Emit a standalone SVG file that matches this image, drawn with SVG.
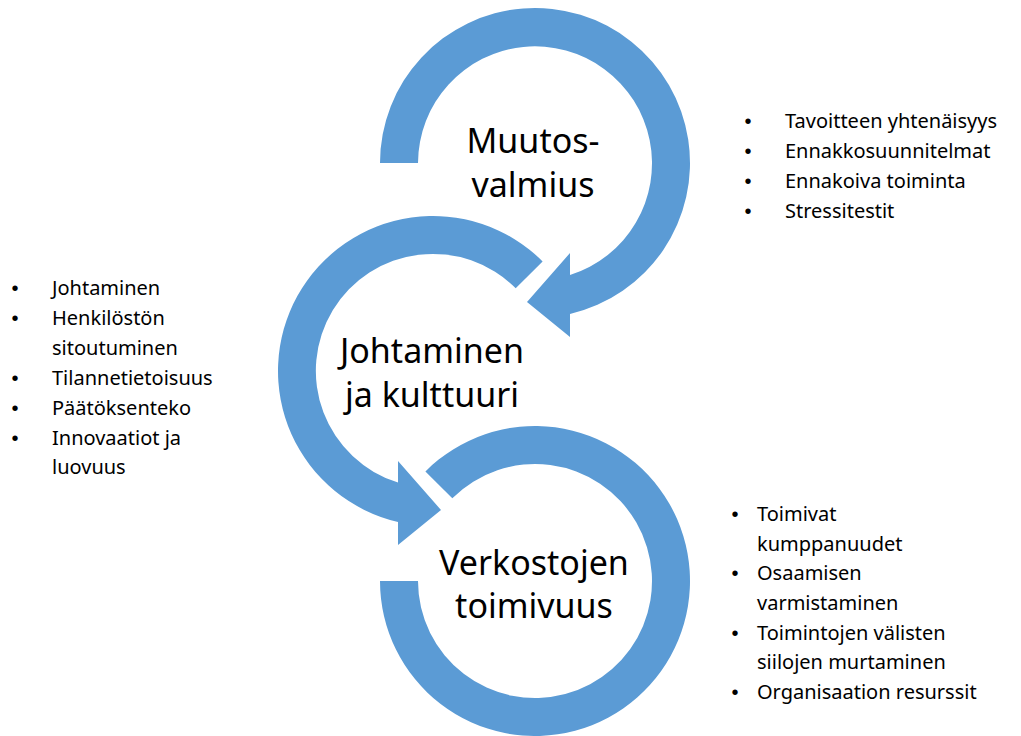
<svg xmlns="http://www.w3.org/2000/svg" width="1021" height="736" viewBox="0 0 1021 736">
  <style>
    .ring { fill: #5B9BD5; }
    .title { font-family: "Noto Sans", "Open Sans", sans-serif; font-size: 34px; fill: #000; text-anchor: middle; }
    .item { font-family: "Noto Sans", "Open Sans", sans-serif; font-size: 20px; fill: #000; }
    .dot { font-family: "Liberation Sans", sans-serif; font-size: 20px; fill: #000; text-anchor: middle; }
  </style>
  <rect width="1021" height="736" fill="#fff"/>

  <!-- circular arrows -->
  <g id="connectors">
    <!-- top ring: clockwise from the left, head at lower left -->
    <path class="ring" d="M380,163 A155,155 0 1 1 570,314 L570,337 L527,302 L570,253 L570,275 A117,117 0 1 0 418,163 Z"/>
    <!-- middle ring: counter-clockwise from upper right, head at lower right -->
    <path class="ring" d="M542.6,261.4 A155,155 0 1 0 398,522 L398,545 L441,510 L398,461 L398,482.6 A117,117 0 1 1 515.7,288.3 Z"/>
    <!-- bottom ring: clockwise from upper left, open end at the left -->
    <path class="ring" d="M425.4,471.4 A155,155 0 1 1 380,581 L418,581 A117,117 0 1 0 452.3,498.3 Z"/>
  </g>

  <g id="node-muutosvalmius">
    <text class="title" x="533" y="153">Muutos-</text>
    <text class="title" x="533" y="197">valmius</text>
  </g>

  <g id="node-johtaminen">
    <text class="title" x="432" y="363">Johtaminen</text>
    <text class="title" x="432" y="407">ja kulttuuri</text>
  </g>

  <g id="node-verkostot">
    <text class="title" x="534" y="575">Verkostojen</text>
    <text class="title" x="534" y="618">toimivuus</text>
  </g>

  <g id="list-muutosvalmius">
    <text class="dot" x="748" y="128">•</text><text class="item" x="785" y="128">Tavoitteen yhtenäisyys</text>
    <text class="dot" x="748" y="158">•</text><text class="item" x="785" y="158">Ennakkosuunnitelmat</text>
    <text class="dot" x="748" y="188">•</text><text class="item" x="785" y="188">Ennakoiva toiminta</text>
    <text class="dot" x="748" y="218">•</text><text class="item" x="785" y="218">Stressitestit</text>
  </g>

  <g id="list-johtaminen">
    <text class="dot" x="15" y="295">•</text><text class="item" x="52" y="295">Johtaminen</text>
    <text class="dot" x="15" y="325">•</text><text class="item" x="52" y="325">Henkilöstön</text>
    <text class="item" x="52" y="355">sitoutuminen</text>
    <text class="dot" x="15" y="385">•</text><text class="item" x="52" y="385">Tilannetietoisuus</text>
    <text class="dot" x="15" y="415">•</text><text class="item" x="52" y="415">Päätöksenteko</text>
    <text class="dot" x="15" y="445">•</text><text class="item" x="52" y="445">Innovaatiot ja</text>
    <text class="item" x="52" y="474">luovuus</text>
  </g>

  <g id="list-verkostot">
    <text class="dot" x="735" y="521">•</text><text class="item" x="757" y="521">Toimivat</text>
    <text class="item" x="757" y="551">kumppanuudet</text>
    <text class="dot" x="735" y="580">•</text><text class="item" x="757" y="580">Osaamisen</text>
    <text class="item" x="757" y="610">varmistaminen</text>
    <text class="dot" x="735" y="640">•</text><text class="item" x="757" y="640">Toimintojen välisten</text>
    <text class="item" x="757" y="669">siilojen murtaminen</text>
    <text class="dot" x="735" y="699">•</text><text class="item" x="757" y="699">Organisaation resurssit</text>
  </g>
</svg>
